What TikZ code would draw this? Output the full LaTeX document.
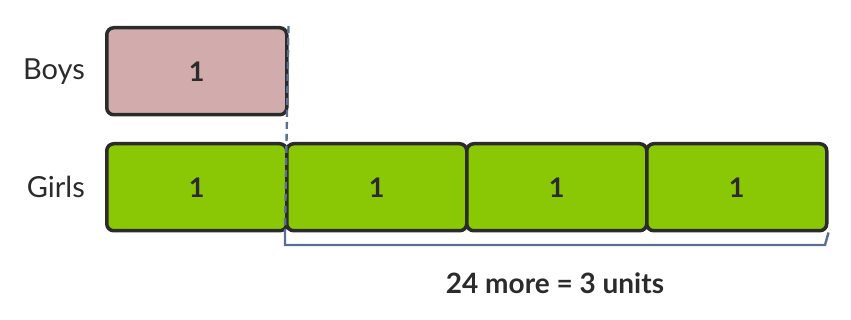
\documentclass[tikz,border=0pt]{standalone}
\usepackage{fontspec}
\setmainfont{Lato}
\definecolor{boyfill}{HTML}{D2ACAC}
\definecolor{girlfill}{HTML}{8AC806}
\definecolor{edge}{HTML}{2B2B2B}
\definecolor{slate}{HTML}{5A7090}
\definecolor{txt}{HTML}{2B2B2B}
\begin{document}
\begin{tikzpicture}[x=1pt,y=-1pt,
  unitbox/.style={draw=edge,line width=3.5pt,rounded corners=7pt,minimum width=180pt,minimum height=87pt,inner sep=0pt,anchor=north west,font=\fontsize{27}{30}\selectfont\bfseries,text=txt},
  rowlabel/.style={anchor=east,font=\fontsize{29}{32}\selectfont,text=txt,inner sep=0pt},
  guide/.style={draw=slate,line width=2.4pt}]
\useasboundingbox (0,0) rectangle (851,320);
\node[rowlabel] (lboys) at (85,72) {Boys};
\node[rowlabel] (lgirls) at (85,187) {Girls};
\node[unitbox,fill=boyfill] (b1) at (105,26) {1};
\node[unitbox,fill=girlfill] (g1) at (105,142) {1};
\node[unitbox,fill=girlfill] (g2) at (285,142) {1};
\node[unitbox,fill=girlfill] (g3) at (465,142) {1};
\node[unitbox,fill=girlfill] (g4) at (645,142) {1};
\coordinate (dtop) at (b1.north east);
\coordinate (bl) at (285,245);
\coordinate (br) at (825,245);
\draw[guide,dash pattern=on 7pt off 5pt] (dtop) -- (285,229);
\draw[guide] (285,229) -- (bl) -- (br) -- (g4.south east);
\node[font=\fontsize{28}{32}\selectfont\bfseries,text=txt] (note) at (555,283) {24 more = 3 units};
\end{tikzpicture}
\end{document}
